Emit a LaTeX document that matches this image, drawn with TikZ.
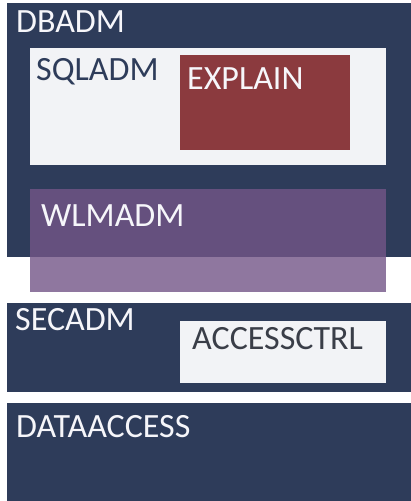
\documentclass[tikz,border=0pt]{standalone}
\usepackage{fontspec}
\setmainfont{Carlito}
\definecolor{navy}{RGB}{46,60,90}
\definecolor{paper}{RGB}{242,243,246}
\definecolor{brick}{RGB}{139,58,62}
\definecolor{plum}{RGB}{115,86,135}
\definecolor{ink}{RGB}{58,62,72}
\definecolor{snow}{RGB}{246,246,250}
\tikzset{
  label/.style={anchor=base west, inner sep=0pt, font=\fontsize{34}{38}\selectfont},
  light/.style={label, text=snow},
  dark/.style={label, text=ink},
}
\begin{document}
\begin{tikzpicture}[x=1pt,y=-1pt]
  \useasboundingbox (0,0) rectangle (411,501);
  \fill[white] (0,0) rectangle (411,501);
  % role groups
  \fill[navy] (7,3) rectangle (411,257);
  \fill[paper] (30,48) rectangle (386,165);
  \fill[brick] (180,55) rectangle (350,150);
  \fill[plum, opacity=0.8] (30,189) rectangle (386,292);
  \fill[navy] (7,303) rectangle (411,392);
  \fill[paper] (180,321) rectangle (386,383);
  \fill[navy] (7,403) rectangle (411,501);
  % role names
  \node[light] (dbadm) at (16,32) {DBADM};
  \node[dark, text=navy] (sqladm) at (36,80) {SQLADM};
  \node[light] (explain) at (187,89) {EXPLAIN};
  \node[light] (wlmadm) at (41,226) {WLMADM};
  \node[light] (secadm) at (15,330) {SECADM};
  \node[dark] (accessctrl) at (192,349) {ACCESSCTRL};
  \node[light] (dataaccess) at (16,437) {DATAACCESS};
\end{tikzpicture}
\end{document}
